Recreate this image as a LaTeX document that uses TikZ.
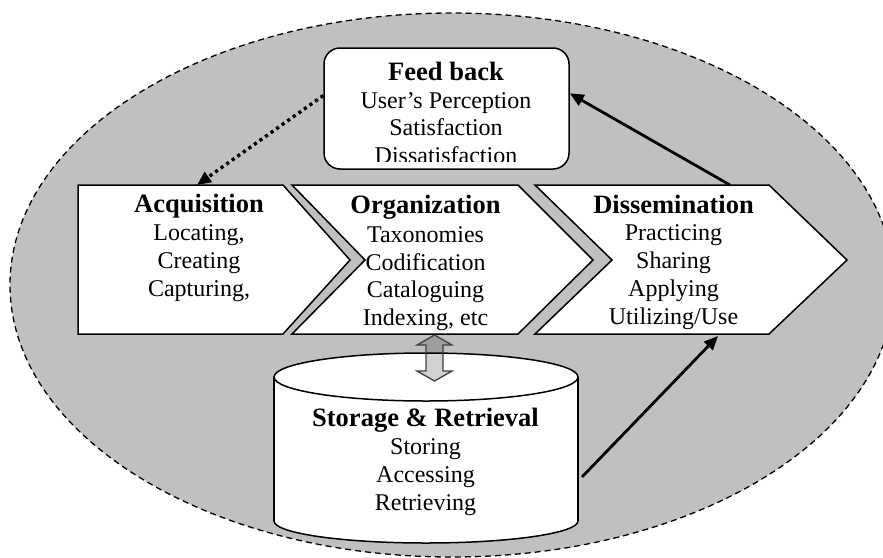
\documentclass[tikz,border=0pt]{standalone}
\usepackage{fontspec}
\setmainfont{Liberation Serif}
\usetikzlibrary{arrows.meta,calc}
\definecolor{bgray}{RGB}{192,192,192}
\newcommand\hd[1]{{\fontsize{26.5}{27.7}\selectfont\bfseries #1}}
\begin{document}
\begin{tikzpicture}[x=1pt,y=-1pt,
  chev/.style={fill=white,draw=black,line width=1.5pt,line join=miter},
  fbbox/.style={fill=white,draw=black,line width=1.5pt,rounded corners=16pt,minimum width=245pt,minimum height=121pt,inner sep=0pt},
  cyl/.style={fill=white,draw=black,line width=1.5pt},
  txt/.style={align=center,font=\fontsize{24}{27.7}\selectfont,inner sep=0pt,anchor=base},
  solidarrow/.style={line width=2.8pt,-{Triangle[length=14pt,width=12pt]}},
  dotarrow/.style={line width=3.4pt,dash pattern=on 3.2pt off 3.6pt,-{Triangle[length=14pt,width=12pt]}},
  dblarrow/.style={fill=black,fill opacity=0.18,draw=black!75,line width=1.3pt,line join=miter}]
\useasboundingbox (0,0) rectangle (883,557);
\clip (0,0) rectangle (883,557);
% background ellipse
\fill[bgray] (452,285) ellipse [x radius=442, y radius=272];
\draw[line width=1.3pt,dash pattern=on 6pt off 4pt] (452,285) ellipse [x radius=442, y radius=272];
% chevrons
\draw[chev] (78,185) -- (283,185) -- (350,260) -- (283,334) -- (78,334) -- cycle;
\draw[chev] (292,185) -- (518,185) -- (593,260) -- (518,334) -- (292,334) -- (365,260) -- cycle;
\draw[chev] (535,185) -- (769,185) -- (847,260) -- (769,334) -- (535,334) -- (612,260) -- cycle;
\coordinate (acqTop) at (197,185);
\coordinate (disTop) at (730,185);
\coordinate (disBot) at (718,336);
% feedback box
\node[fbbox] (fb) at (446.5,108.5) {};
% cylinder
\filldraw[cyl] (426,521) ellipse [x radius=152, y radius=22];
\fill[white] (274,377) rectangle (578,521);
\draw[line width=1.5pt] (274,377) -- (274,521) (578,377) -- (578,521);
\filldraw[cyl] (426,377) ellipse [x radius=152, y radius=24];
\coordinate (cylR) at (582,477);
% double block arrow
\filldraw[dblarrow] (434.5,335) -- (452,345) -- (443,345) -- (443,371) -- (452,371) -- (434.5,381)
  -- (417,371) -- (426,371) -- (426,345) -- (417,345) -- cycle;
% connectors
\draw[dotarrow] (fb.174) -- (acqTop);
\draw[solidarrow] (disTop) -- (fb.7);
\draw[solidarrow] (cylR) -- (disBot);
% texts (anchor base = baseline of last line)
\node[txt] (acqT) at (199,296) {\hd{Acquisition}\\Locating,\\Creating\\Capturing,};
\node[txt] (orgT) at (425.5,325.5) {\hd{Organization}\\[1.5pt]Taxonomies\\Codification\\Cataloguing\\Indexing, etc};
\node[txt] (disT) at (673.5,324) {\hd{Dissemination}\\Practicing\\Sharing\\Applying\\Utilizing/Use};
\begin{scope}
\clip (324,48) rectangle (569,161.5);
\node[txt] (fbT) at (446,163.5) {\hd{Feed back}\\User’s Perception\\Satisfaction\\Dissatisfaction};
\end{scope}
\node[txt] (stT) at (425.5,510) {\hd{Storage \& Retrieval}\\Storing\\Accessing\\Retrieving};
\end{tikzpicture}
\end{document}
